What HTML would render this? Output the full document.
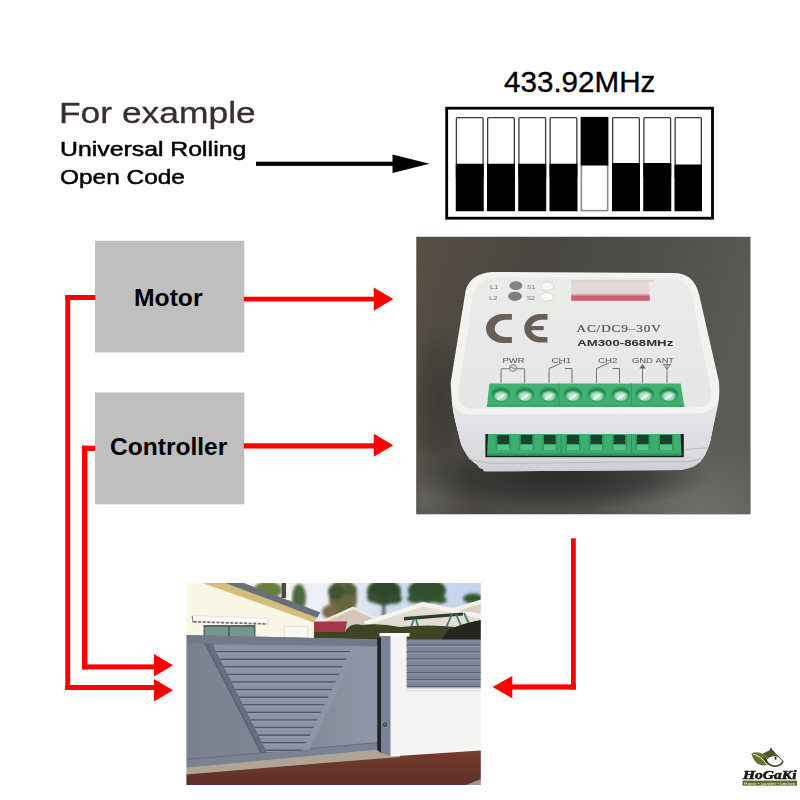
<!DOCTYPE html>
<html><head><meta charset="utf-8">
<style>
html,body{margin:0;padding:0;background:#fff;}
body{width:800px;height:800px;position:relative;overflow:hidden;font-family:"Liberation Sans",sans-serif;}
.t{position:absolute;white-space:nowrap;line-height:1;margin:0;}
svg{position:absolute;left:0;top:0;}
</style></head><body>
<svg id="main" width="800" height="800" viewBox="0 0 800 800">
<!-- black arrow -->
<rect x="256" y="161.7" width="140" height="4.2" fill="#000"/>
<polygon points="392.5,154.5 429.5,163.8 392.5,173" fill="#000"/>
<!-- dip switch -->
<rect x="446.7" y="108.2" width="265.8" height="110" fill="#fff" stroke="#000" stroke-width="2.8"/>
<g id="sw">
<rect x="456.4" y="117.65" width="26.7" height="60" rx="1" fill="#fff" stroke="#3a3a3a" stroke-width="1.3"/><rect x="455.75" y="163.75" width="28" height="47.5" fill="#000"/>
<rect x="487.65" y="117.65" width="26.7" height="60" rx="1" fill="#fff" stroke="#3a3a3a" stroke-width="1.3"/><rect x="487" y="163.75" width="28" height="47.5" fill="#000"/>
<rect x="518.9" y="117.65" width="26.7" height="60" rx="1" fill="#fff" stroke="#3a3a3a" stroke-width="1.3"/><rect x="518.25" y="163.75" width="28" height="47.5" fill="#000"/>
<rect x="550.15" y="117.65" width="26.7" height="60" rx="1" fill="#fff" stroke="#3a3a3a" stroke-width="1.3"/><rect x="549.5" y="163.75" width="28" height="47.5" fill="#000"/>
<rect x="581.35" y="117.6" width="26.3" height="93" fill="#fff" stroke="#8a8a8a" stroke-width="1.6"/><rect x="580.75" y="117" width="27.5" height="48.5" fill="#000"/>
<rect x="612.65" y="117.65" width="26.7" height="60" rx="1" fill="#fff" stroke="#3a3a3a" stroke-width="1.3"/><rect x="612" y="163" width="28" height="48.25" fill="#000"/>
<rect x="643.9" y="117.65" width="26.7" height="60" rx="1" fill="#fff" stroke="#3a3a3a" stroke-width="1.3"/><rect x="643.25" y="163" width="28" height="48.25" fill="#000"/>
<rect x="675.15" y="117.65" width="26.2" height="60" rx="1" fill="#fff" stroke="#3a3a3a" stroke-width="1.3"/><rect x="674.5" y="164.5" width="27.5" height="46.75" fill="#000"/>
</g>
<!-- DEVICE START -->
<defs>
<clipPath id="cpDev"><rect x="416.25" y="236.75" width="334.25" height="277.5"/></clipPath>
<linearGradient id="bgDev" x1="0" y1="0" x2="1" y2="0.25">
<stop offset="0" stop-color="#574f43"/><stop offset="0.35" stop-color="#4a4742"/><stop offset="0.7" stop-color="#4f4f4c"/><stop offset="1" stop-color="#5a5a57"/>
</linearGradient>
<radialGradient id="bgShade" cx="0.5" cy="0.5" r="0.5"><stop offset="0" stop-color="#2a2a29" stop-opacity="0.95"/><stop offset="0.6" stop-color="#2e2e2d" stop-opacity="0.6"/><stop offset="1" stop-color="#333" stop-opacity="0"/></radialGradient>
<radialGradient id="bgLight" cx="0.5" cy="0.5" r="0.5"><stop offset="0" stop-color="#74746f" stop-opacity="0.9"/><stop offset="1" stop-color="#6a6a66" stop-opacity="0"/></radialGradient>
<linearGradient id="topFace" x1="0" y1="0" x2="0" y2="1">
<stop offset="0" stop-color="#ebebea"/><stop offset="1" stop-color="#e5e6e6"/>
</linearGradient>
<linearGradient id="frontFace" x1="0" y1="0" x2="0" y2="1">
<stop offset="0" stop-color="#f6f6f6"/><stop offset="0.15" stop-color="#e5e5e8"/><stop offset="0.8" stop-color="#d9dade"/><stop offset="1" stop-color="#cccdd2"/>
</linearGradient>
<radialGradient id="screw" cx="0.5" cy="0.5" r="0.5">
<stop offset="0" stop-color="#d3efe0"/><stop offset="0.6" stop-color="#a5dcc0"/><stop offset="0.9" stop-color="#4fb27e"/><stop offset="1" stop-color="#2f9a5e"/>
</radialGradient>
<filter id="b1"><feGaussianBlur stdDeviation="0.6"/></filter>
<filter id="b2"><feGaussianBlur stdDeviation="1.5"/></filter>
<filter id="b05"><feGaussianBlur stdDeviation="0.35"/></filter>
</defs>
<g clip-path="url(#cpDev)">
<rect x="416" y="236" width="336" height="279" fill="url(#bgDev)"/>
<ellipse cx="700" cy="520" rx="110" ry="90" fill="url(#bgLight)"/>
<ellipse cx="425" cy="500" rx="50" ry="60" fill="url(#bgLight)" opacity="0.6"/>
<ellipse cx="560" cy="476" rx="150" ry="34" fill="url(#bgShade)"/>
<ellipse cx="440" cy="400" rx="30" ry="80" fill="url(#bgShade)" opacity="0.5"/>
<path d="M492.5 272 L672.5 273 C688 273 695 280 699 294 L719 382 Q720 395 718 405 L715 418 L710 442.5 Q707 452 703 458 Q698 467 681 470 L484 471.3 L483 469 Q479 468.5 477.5 465 Q470 460 466.9 455 Q462 447 460.6 442.5 L454.4 417.5 Q451 400 450.6 383 L465.6 291 C468 280 478 272.5 492.5 272 Z" fill="#f3f3f1"/>
<path d="M451.5 398 Q453 413 470 414.5 L700 413.5 Q715 412 718.5 398 L715 418 L710 442.5 Q707 452 703 458 Q698 467 681 470 L484 471.3 L483 469 Q479 468.5 477.5 465 Q470 460 466.9 455 Q462 447 460.6 442.5 L454.4 417.5 Q452 407 451.5 398 Z" fill="url(#frontFace)"/>
<path d="M468.5 458.5 Q480 463.5 500 463.3 L690 461.5 Q698 460 702 457.5" stroke="#b5b6bc" stroke-width="0.9" fill="none"/>
<path d="M496 277.5 L670 278 Q688 278.5 692 296 L711 390 Q713 406 699 407.5 L471 408.5 Q457 407.5 458.5 392 L473 295 Q477 278 496 277.5 Z" fill="url(#topFace)"/>
<rect x="571.25" y="280.5" width="82.5" height="20.25" fill="#e6d6d8"/>
<rect x="571.25" y="293.8" width="78" height="2" fill="#dcaab0"/>
<rect x="571.25" y="295.5" width="78.5" height="5.25" fill="#c8616f"/>
<polygon points="648.5,282 653.75,280.5 653.75,300.75 650.5,300.75" fill="#f1e9e7"/>
<rect x="571.25" y="280.5" width="82.5" height="1.2" fill="#d8cccc"/>
<g filter="url(#b05)">
<ellipse cx="515.9" cy="285.6" rx="6.5" ry="4.4" fill="#878080"/>
<ellipse cx="515" cy="296.3" rx="6.9" ry="4.6" fill="#847d7d"/>
<ellipse cx="547.25" cy="286.25" rx="6.5" ry="4.3" fill="#f8f8f4" stroke="#d2d2cc" stroke-width="0.9"/>
<ellipse cx="546.9" cy="296.9" rx="6.5" ry="4.4" fill="#f8f8f4" stroke="#d2d2cc" stroke-width="0.9"/>
<text x="490" y="288.8" font-size="5.2" font-family="Liberation Sans, sans-serif" fill="#777" textLength="8.5" lengthAdjust="spacingAndGlyphs">L1</text>
<text x="489" y="299.5" font-size="5.2" font-family="Liberation Sans, sans-serif" fill="#777" textLength="8.5" lengthAdjust="spacingAndGlyphs">L2</text>
<text x="526.9" y="289" font-size="5.2" font-family="Liberation Sans, sans-serif" fill="#777" textLength="8.7" lengthAdjust="spacingAndGlyphs">S1</text>
<text x="526.4" y="299.8" font-size="5.2" font-family="Liberation Sans, sans-serif" fill="#777" textLength="8.7" lengthAdjust="spacingAndGlyphs">S2</text>
<path d="M511.9 314.1 H503 A17 14.5 0 0 0 503 343.1 H511.9 V337.1 H505 A11.25 8.7 0 0 1 505 319.75 H511.9 Z" fill="#686158"/>
<path d="M547.5 314.1 H539 A16.1 14.3 0 0 0 539 342.6 H547.5 V337 H541.5 A10.5 8.65 0 0 1 541.5 319.7 H547.5 Z" fill="#686158"/>
<rect x="530" y="326" width="13.75" height="4.2" fill="#686158"/>
</g>
<g filter="url(#b05)">
<text transform="translate(576.5 331.8) scale(1.25 1)" x="0" y="0" font-size="10.6" font-family="Liberation Serif, serif" fill="#555" stroke="#555" stroke-width="0.2" textLength="67.4" lengthAdjust="spacing">AC/DC9–30V</text>
<text x="577.25" y="345.5" font-size="9.6" font-weight="bold" font-family="Liberation Sans, sans-serif" fill="#2e2e2e" textLength="96" lengthAdjust="spacingAndGlyphs">AM300-868MHz</text>
<text x="502.5" y="362.5" font-family="Liberation Sans, sans-serif" fill="#555" font-size="7.2" lengthAdjust="spacingAndGlyphs" textLength="22">PWR</text>
<text x="551.4" y="362.5" font-family="Liberation Sans, sans-serif" fill="#555" font-size="7.2" lengthAdjust="spacingAndGlyphs" textLength="19.8">CH1</text>
<text x="598" y="362.5" font-family="Liberation Sans, sans-serif" fill="#555" font-size="7.2" lengthAdjust="spacingAndGlyphs" textLength="19.5">CH2</text>
<text x="631.9" y="362.5" font-family="Liberation Sans, sans-serif" fill="#555" font-size="7.2" lengthAdjust="spacingAndGlyphs" textLength="21">GND</text>
<text x="655.5" y="362.5" font-family="Liberation Sans, sans-serif" fill="#555" font-size="7.2" lengthAdjust="spacingAndGlyphs" textLength="18.5">ANT</text>
<path d="M501 383 V368.8 H509.5 M516.5 368.8 H524.6 V383" fill="none" stroke="#666" stroke-width="0.9"/>
<circle cx="513" cy="368" r="3.4" fill="none" stroke="#666" stroke-width="0.9"/><path d="M510.5 367 L515.5 369" fill="none" stroke="#666" stroke-width="0.9"/>
<path d="M549 383 V368.5 L562 362.8 M565 368.5 H572 V383" fill="none" stroke="#666" stroke-width="0.9"/>
<path d="M596.5 383 V368.5 L609.5 362.8 M612.5 368.5 H619.5 V383" fill="none" stroke="#666" stroke-width="0.9"/>
<path d="M642.5 383 V368" fill="none" stroke="#666" stroke-width="0.9"/><path d="M639.3 368.5 L642.5 364 L645.7 368.5 Z" fill="#666"/>
<path d="M667 383 V364.5 M663.3 364.5 H670.7 L667 369 Z" fill="none" stroke="#666" stroke-width="0.9"/>
</g>
<polygon points="489.4,383.6 680.6,383.6 684.4,406.8 486.9,406.8" fill="#3fb272"/>
<polygon points="487.1,404.8 684.1,404.8 684.4,406.8 486.9,406.8" fill="#36a266"/>
<rect x="558.7" y="383.3" width="0.8" height="23.3" fill="#2f9a5e"/>
<rect x="631" y="383.3" width="0.8" height="23.3" fill="#2f9a5e"/>
<ellipse cx="501.00" cy="394.6" rx="9.6" ry="7.6" fill="#2f9c5f"/>
<ellipse cx="501.00" cy="393.6" rx="8.6" ry="5.6" fill="#2a8a54"/>
<ellipse cx="501.00" cy="396.2" rx="8" ry="5.6" fill="url(#screw)"/>
<path d="M497.50 399.5 L504.50 394.5" stroke="#eefaf3" stroke-width="2" filter="url(#b1)"/>
<ellipse cx="524.96" cy="394.6" rx="9.6" ry="7.6" fill="#2f9c5f"/>
<ellipse cx="524.96" cy="393.6" rx="8.6" ry="5.6" fill="#2a8a54"/>
<ellipse cx="524.96" cy="396.2" rx="8" ry="5.6" fill="url(#screw)"/>
<path d="M521.46 399.5 L528.46 394.5" stroke="#eefaf3" stroke-width="2" filter="url(#b1)"/>
<ellipse cx="548.92" cy="394.6" rx="9.6" ry="7.6" fill="#2f9c5f"/>
<ellipse cx="548.92" cy="393.6" rx="8.6" ry="5.6" fill="#2a8a54"/>
<ellipse cx="548.92" cy="396.2" rx="8" ry="5.6" fill="url(#screw)"/>
<path d="M545.42 399.5 L552.42 394.5" stroke="#eefaf3" stroke-width="2" filter="url(#b1)"/>
<ellipse cx="572.88" cy="394.6" rx="9.6" ry="7.6" fill="#2f9c5f"/>
<ellipse cx="572.88" cy="393.6" rx="8.6" ry="5.6" fill="#2a8a54"/>
<ellipse cx="572.88" cy="396.2" rx="8" ry="5.6" fill="url(#screw)"/>
<path d="M569.38 399.5 L576.38 394.5" stroke="#eefaf3" stroke-width="2" filter="url(#b1)"/>
<ellipse cx="596.84" cy="394.6" rx="9.6" ry="7.6" fill="#2f9c5f"/>
<ellipse cx="596.84" cy="393.6" rx="8.6" ry="5.6" fill="#2a8a54"/>
<ellipse cx="596.84" cy="396.2" rx="8" ry="5.6" fill="url(#screw)"/>
<path d="M593.34 399.5 L600.34 394.5" stroke="#eefaf3" stroke-width="2" filter="url(#b1)"/>
<ellipse cx="620.80" cy="394.6" rx="9.6" ry="7.6" fill="#2f9c5f"/>
<ellipse cx="620.80" cy="393.6" rx="8.6" ry="5.6" fill="#2a8a54"/>
<ellipse cx="620.80" cy="396.2" rx="8" ry="5.6" fill="url(#screw)"/>
<path d="M617.30 399.5 L624.30 394.5" stroke="#eefaf3" stroke-width="2" filter="url(#b1)"/>
<ellipse cx="644.76" cy="394.6" rx="9.6" ry="7.6" fill="#2f9c5f"/>
<ellipse cx="644.76" cy="393.6" rx="8.6" ry="5.6" fill="#2a8a54"/>
<ellipse cx="644.76" cy="396.2" rx="8" ry="5.6" fill="url(#screw)"/>
<path d="M641.26 399.5 L648.26 394.5" stroke="#eefaf3" stroke-width="2" filter="url(#b1)"/>
<ellipse cx="668.72" cy="394.6" rx="9.6" ry="7.6" fill="#2f9c5f"/>
<ellipse cx="668.72" cy="393.6" rx="8.6" ry="5.6" fill="#2a8a54"/>
<ellipse cx="668.72" cy="396.2" rx="8" ry="5.6" fill="url(#screw)"/>
<path d="M665.22 399.5 L672.22 394.5" stroke="#eefaf3" stroke-width="2" filter="url(#b1)"/>
<rect x="485.4" y="434" width="198.4" height="23.2" fill="#1c1d1c"/>
<polygon points="488,434 680.6,434 681.5,455.6 487,455.6" fill="#3cae6d"/>
<rect x="487" y="453.2" width="194.5" height="2.4" fill="#2f9a5e"/>
<rect x="497.25" y="435" width="12" height="9.5" fill="#17452c"/>
<path d="M497.25 444.5 h12 l1.5 5.5 h-15 Z" fill="#52c286"/>
<rect x="495.65" y="435" width="1.6" height="15" fill="#2f9a5e"/>
<rect x="509.25" y="435" width="1.6" height="15" fill="#2f9a5e"/>
<rect x="520.50" y="435" width="12" height="9.5" fill="#17452c"/>
<path d="M520.50 444.5 h12 l1.5 5.5 h-15 Z" fill="#52c286"/>
<rect x="518.90" y="435" width="1.6" height="15" fill="#2f9a5e"/>
<rect x="532.50" y="435" width="1.6" height="15" fill="#2f9a5e"/>
<rect x="543.75" y="435" width="12" height="9.5" fill="#17452c"/>
<path d="M543.75 444.5 h12 l1.5 5.5 h-15 Z" fill="#52c286"/>
<rect x="542.15" y="435" width="1.6" height="15" fill="#2f9a5e"/>
<rect x="555.75" y="435" width="1.6" height="15" fill="#2f9a5e"/>
<rect x="567.00" y="435" width="12" height="9.5" fill="#17452c"/>
<path d="M567.00 444.5 h12 l1.5 5.5 h-15 Z" fill="#52c286"/>
<rect x="565.40" y="435" width="1.6" height="15" fill="#2f9a5e"/>
<rect x="579.00" y="435" width="1.6" height="15" fill="#2f9a5e"/>
<rect x="590.25" y="435" width="12" height="9.5" fill="#17452c"/>
<path d="M590.25 444.5 h12 l1.5 5.5 h-15 Z" fill="#52c286"/>
<rect x="588.65" y="435" width="1.6" height="15" fill="#2f9a5e"/>
<rect x="602.25" y="435" width="1.6" height="15" fill="#2f9a5e"/>
<rect x="613.50" y="435" width="12" height="9.5" fill="#17452c"/>
<path d="M613.50 444.5 h12 l1.5 5.5 h-15 Z" fill="#52c286"/>
<rect x="611.90" y="435" width="1.6" height="15" fill="#2f9a5e"/>
<rect x="625.50" y="435" width="1.6" height="15" fill="#2f9a5e"/>
<rect x="636.75" y="435" width="12" height="9.5" fill="#17452c"/>
<path d="M636.75 444.5 h12 l1.5 5.5 h-15 Z" fill="#52c286"/>
<rect x="635.15" y="435" width="1.6" height="15" fill="#2f9a5e"/>
<rect x="648.75" y="435" width="1.6" height="15" fill="#2f9a5e"/>
<rect x="660.00" y="435" width="12" height="9.5" fill="#17452c"/>
<path d="M660.00 444.5 h12 l1.5 5.5 h-15 Z" fill="#52c286"/>
<rect x="658.40" y="435" width="1.6" height="15" fill="#2f9a5e"/>
<rect x="672.00" y="435" width="1.6" height="15" fill="#2f9a5e"/>
<path d="M684.5 449.5 L708 447.8" stroke="#b9bac0" stroke-width="1"/>
<rect x="560.5" y="434.5" width="1" height="21" fill="#2c8f58"/>
<rect x="631" y="434.5" width="1" height="21" fill="#2c8f58"/>
</g>
<!-- DEVICE END -->
<!-- GATE START -->
<defs>
<clipPath id="cpGate"><rect x="186.4" y="583" width="294.4" height="202"/></clipPath>
<clipPath id="cpTri"><polygon points="213,645 352.4,646.6 302.5,750.5 267,752.3"/></clipPath>
<linearGradient id="sky" x1="0" y1="0" x2="1" y2="0"><stop offset="0" stop-color="#f4f5fa"/><stop offset="0.5" stop-color="#eceff7"/><stop offset="0.68" stop-color="#cfdcf2"/><stop offset="1" stop-color="#c3d3ef"/></linearGradient>
<linearGradient id="gateG" x1="0" y1="0" x2="1" y2="0"><stop offset="0" stop-color="#7a8191"/><stop offset="0.55" stop-color="#7f8797"/><stop offset="1" stop-color="#8f97a8"/></linearGradient>
<linearGradient id="pave" x1="0" y1="0" x2="0" y2="1"><stop offset="0" stop-color="#7a3d2f"/><stop offset="1" stop-color="#5a2e27"/></linearGradient>
<filter id="gb"><feGaussianBlur stdDeviation="0.55"/></filter>
<filter id="gb2"><feGaussianBlur stdDeviation="1.6"/></filter>
</defs>
<g clip-path="url(#cpGate)"><g filter="url(#gb)">
<rect x="180" y="578" width="310" height="212" fill="url(#sky)"/>
<g filter="url(#gb2)">
<ellipse cx="343" cy="598" rx="14" ry="20" fill="#67663f"/>
<ellipse cx="336" cy="592" rx="8" ry="8" fill="#3d5433"/>
<ellipse cx="350" cy="590" rx="7" ry="6" fill="#4a5a34"/>
<ellipse cx="384" cy="592" rx="17" ry="13" fill="#2f4a2c"/>
<ellipse cx="375" cy="598" rx="8" ry="5" fill="#34502f"/>
<ellipse cx="394" cy="599" rx="8" ry="5" fill="#34502f"/>
<rect x="382.5" y="600" width="2.6" height="16" fill="#3f3d30"/>
<ellipse cx="427" cy="591" rx="19" ry="12" fill="#31502d"/>
<ellipse cx="415" cy="599" rx="8" ry="4" fill="#36552f"/>
<ellipse cx="440" cy="600" rx="7" ry="3.5" fill="#36552f"/>
<ellipse cx="473" cy="598.5" rx="10" ry="5" fill="#35552f"/>
<ellipse cx="299" cy="598" rx="7" ry="14" fill="#4e6a3a"/>
<ellipse cx="268" cy="590" rx="14" ry="9" fill="#66803a"/>
<ellipse cx="330" cy="612" rx="8" ry="7" fill="#7a6a4a"/>
</g>
<polygon points="325,622 353,608 380,622 380,632 325,632" fill="#d6c6ba"/>
<polygon points="325,619 353,606.5 378,618 378,620.5 353,609.5 325,622" fill="#efe6dc"/>
<polygon points="366,624 423,604.5 481,618 481,640 366,640" fill="#e2ddd0"/>
<polygon points="364,621.5 423,602 481,614 481,618.5 423,606.5 366,625.5" fill="#f7f4ee"/>
<polygon points="452,608.5 481,599.5 481,604 458,611" fill="#f4efe6"/>
<polygon points="458,611 481,604 481,613 470,612" fill="#dcd2c4"/>
<polygon points="404,617 463,612.5 463,615.5 404,620.5" fill="#2e3a36"/>
<path d="M414 619 L410 630 M416 619 L419 630 M452 614 L446 628 M456 614 L462 628 M464 613 L470 626" stroke="#3f7f78" stroke-width="1.8" fill="none"/>
<polygon points="314,621.5 347,621.5 345,632.5 314,632.5" fill="#a33748"/>
<path d="M312 632 L345 632 Q350 622 362 625 Q380 623 400 627 Q430 624 455 627 Q470 622 481 620 L481 642 L312 642 Z" fill="#3c4427" filter="url(#gb)"/>
<path d="M448 630 Q468 622 481 620 L481 642 L440 642 Z" fill="#23251c" filter="url(#gb)"/>
<polygon points="186,583 232,583 314,618 314,640 186,640" fill="#faf6e6"/>
<polygon points="202.6,583 225.4,583 317,617.6 313.75,622.5" fill="#d4bd7a"/>
<polygon points="225.4,583 243.75,583 320.5,612.4 317,617.8" fill="#6a6f78"/>
<rect x="281.6" y="583" width="4.6" height="15" fill="#4a4a48"/><rect x="286.2" y="583" width="5" height="17" fill="#f3f1ea"/>
<polygon points="191.5,615.5 268.5,618.5 268,623 193,621" fill="#ffffff" stroke="#dcd8cc" stroke-width="0.7"/>
<path d="M193.5 621.8 L267.5 624" stroke="#6e6a5e" stroke-width="1.6" stroke-dasharray="3 1.6" fill="none"/>
<path d="M192.3 616 L192.8 622.5" stroke="#8a8678" stroke-width="1" fill="none"/>
<rect x="203.5" y="625" width="52" height="12.5" fill="#56635f"/>
<rect x="205" y="627" width="23" height="10" fill="#749592"/><rect x="230" y="627" width="24" height="10" fill="#749592"/>
<rect x="284.4" y="626.6" width="23" height="11" fill="#fbfaf2" stroke="#e2dcc4" stroke-width="0.8"/>
<polygon points="186,760 481,745 481,790 186,790" fill="url(#pave)"/>
<polygon points="186,764 400,747 400,757 330,762.5 186,774.5" fill="#b0a594"/>
<polygon points="466,785 481,779 481,786" fill="#9a9694"/>
<polygon points="390,636 406.7,636 406.7,688 481,688 481,750.5 390,756.5" fill="#f4f4f3"/>
<rect x="379.5" y="633" width="30" height="3.4" fill="#fbfbfa"/>
<rect x="406" y="685.8" width="75" height="4.4" fill="#ffffff"/>
<rect x="406" y="690.2" width="75" height="1" fill="#d9d9d9"/>
<rect x="406.7" y="639.5" width="75" height="46.5" fill="#7d8598"/>
<rect x="406.7" y="644.50" width="75" height="1.3" fill="#5c6376"/>
<rect x="406.7" y="645.80" width="75" height="1.2" fill="#8f97aa"/>
<rect x="406.7" y="651.40" width="75" height="1.3" fill="#5c6376"/>
<rect x="406.7" y="652.70" width="75" height="1.2" fill="#8f97aa"/>
<rect x="406.7" y="658.30" width="75" height="1.3" fill="#5c6376"/>
<rect x="406.7" y="659.60" width="75" height="1.2" fill="#8f97aa"/>
<rect x="406.7" y="665.20" width="75" height="1.3" fill="#5c6376"/>
<rect x="406.7" y="666.50" width="75" height="1.2" fill="#8f97aa"/>
<rect x="406.7" y="672.10" width="75" height="1.3" fill="#5c6376"/>
<rect x="406.7" y="673.40" width="75" height="1.2" fill="#8f97aa"/>
<rect x="406.7" y="679.00" width="75" height="1.3" fill="#5c6376"/>
<rect x="406.7" y="680.30" width="75" height="1.2" fill="#8f97aa"/>
<rect x="406.7" y="685.90" width="75" height="1.3" fill="#5c6376"/>
<rect x="406.7" y="687.20" width="75" height="1.2" fill="#8f97aa"/>
<polygon points="186,635 378,639.5 378,749.5 186,767.5" fill="url(#gateG)"/>
<polygon points="186,635 378,639.5 378,646.5 186,643" fill="#727a8a"/>
<polygon points="186,759.5 378,742.5 378,749.5 186,767.5" fill="#7a8293"/>
<polygon points="186,759 378,742 378,743 186,760" fill="#666d7d"/>
<polygon points="204.5,643.5 213.5,643.7 268.5,752.5 260.5,753" fill="#666d7e"/>
<polygon points="204.5,643.5 206,643.5 262,753 260.5,753" fill="#5b6272"/>
<polygon points="351,645.5 359,646 309.5,749.3 302,750.3" fill="#8d95a6"/>
<g clip-path="url(#cpTri)">
<rect x="210" y="640" width="150" height="115" fill="#8a92a3"/>
<rect x="210" y="651.00" width="150" height="1.5" fill="#4f5666"/>
<rect x="210" y="652.50" width="150" height="1.5" fill="#949cad"/>
<rect x="210" y="658.59" width="150" height="1.5" fill="#4f5666"/>
<rect x="210" y="660.09" width="150" height="1.5" fill="#949cad"/>
<rect x="210" y="666.17" width="150" height="1.5" fill="#4f5666"/>
<rect x="210" y="667.67" width="150" height="1.5" fill="#949cad"/>
<rect x="210" y="673.75" width="150" height="1.5" fill="#4f5666"/>
<rect x="210" y="675.25" width="150" height="1.5" fill="#949cad"/>
<rect x="210" y="681.34" width="150" height="1.5" fill="#4f5666"/>
<rect x="210" y="682.84" width="150" height="1.5" fill="#949cad"/>
<rect x="210" y="688.92" width="150" height="1.5" fill="#4f5666"/>
<rect x="210" y="690.42" width="150" height="1.5" fill="#949cad"/>
<rect x="210" y="696.51" width="150" height="1.5" fill="#4f5666"/>
<rect x="210" y="698.01" width="150" height="1.5" fill="#949cad"/>
<rect x="210" y="704.10" width="150" height="1.5" fill="#4f5666"/>
<rect x="210" y="705.60" width="150" height="1.5" fill="#949cad"/>
<rect x="210" y="711.68" width="150" height="1.5" fill="#4f5666"/>
<rect x="210" y="713.18" width="150" height="1.5" fill="#949cad"/>
<rect x="210" y="719.26" width="150" height="1.5" fill="#4f5666"/>
<rect x="210" y="720.76" width="150" height="1.5" fill="#949cad"/>
<rect x="210" y="726.85" width="150" height="1.5" fill="#4f5666"/>
<rect x="210" y="728.35" width="150" height="1.5" fill="#949cad"/>
<rect x="210" y="734.43" width="150" height="1.5" fill="#4f5666"/>
<rect x="210" y="735.93" width="150" height="1.5" fill="#949cad"/>
<rect x="210" y="742.02" width="150" height="1.5" fill="#4f5666"/>
<rect x="210" y="743.52" width="150" height="1.5" fill="#949cad"/>
<rect x="210" y="749.61" width="150" height="1.5" fill="#4f5666"/>
<rect x="210" y="751.11" width="150" height="1.5" fill="#949cad"/>
<rect x="210" y="757.19" width="150" height="1.5" fill="#4f5666"/>
<rect x="210" y="758.69" width="150" height="1.5" fill="#949cad"/>
</g>
<polygon points="377.2,638 381,638 381,753 377.2,750" fill="#23262c"/>
<polygon points="381,637 390.5,636.5 390.5,756 381,753" fill="#7b8294"/>
<circle cx="385" cy="724.4" r="2" fill="#2b2e35"/><circle cx="385" cy="724.4" r="0.9" fill="#9097a6"/>
</g></g>
<!-- GATE END -->
<!-- LOGO START -->
<g filter="url(#b05)">
<path d="M751.3 753.2 Q758 751 764 754.5 Q768 758 767.5 765 Q760 766.5 755.5 762 Q752.5 758.5 751.3 753.2 Z" fill="#6b7231"/>
<path d="M753 754 Q761 756 766.8 764.5" stroke="#ffffff" stroke-width="1" fill="none"/>
<path d="M762.5 753.8 L771.5 749.2 L778 757.2 Q771 754.5 767.5 759 Q765.8 755.5 762.5 753.8 Z" fill="#4f5625"/>
<rect x="770.2" y="747.8" width="1.6" height="3" fill="#3d421c"/>
<path d="M764.5 757.5 Q767.5 765.5 774.5 766.3 Q781 766 783 761.2" stroke="#2b2e16" stroke-width="1.5" fill="none"/>
<path d="M771.5 749.5 L783 761.3" stroke="#2b2e16" stroke-width="0.9" fill="none"/>
<rect x="774.6" y="757" width="1.8" height="2.6" fill="#2b2e16"/>
<text x="743" y="778.6" font-family="Liberation Serif, serif" font-weight="bold" font-style="italic" font-size="11.8" fill="#15140c" stroke="#15140c" stroke-width="0.5" textLength="53.5" lengthAdjust="spacingAndGlyphs">HoGaKi</text>
<rect x="742.5" y="780.6" width="54.5" height="5" fill="#5f6a2c"/>
<text x="744" y="784.7" font-family="Liberation Sans, sans-serif" font-size="4.3" fill="#f4f4e6" textLength="51.5" lengthAdjust="spacingAndGlyphs">Home • garden • kitchen</text>
</g>
<!-- LOGO END -->
<!-- gray boxes -->
<rect x="95" y="240.75" width="149.25" height="111.75" fill="#bfbfbf"/>
<rect x="95" y="392.5" width="149.25" height="111.75" fill="#bfbfbf"/>
<!-- red lines -->
<g fill="#ff0000">
<rect x="65.3" y="295" width="30" height="5"/>
<rect x="65.3" y="295" width="4.9" height="395"/>
<rect x="65.3" y="685" width="90" height="5"/>
<polygon points="154,679 173,690.3 154,701.6"/>
<rect x="82" y="445.7" width="13.2" height="5.3"/>
<rect x="82" y="445.7" width="5.4" height="223.7"/>
<rect x="82" y="664.4" width="73" height="5"/>
<polygon points="154,654 173,665.2 154,676.4"/>
<rect x="243.75" y="296.7" width="131" height="4.8"/>
<polygon points="373.75,287.5 393.25,299.1 373.75,310.75"/>
<rect x="243.75" y="443.3" width="131" height="5.2"/>
<polygon points="373.75,433.75 393.25,445.3 373.75,456.75"/>
<rect x="571" y="538.3" width="4.8" height="151.3"/>
<rect x="511" y="684.4" width="64.8" height="5.2"/>
<polygon points="512.3,676 492.6,687.1 512.3,698.2"/>
</g>
</svg>
<div class="t" style="left:58.8px;top:97.7px;font-size:29.3px;color:#3a2d2d;transform-origin:0 0;transform:scaleX(1.208);-webkit-text-stroke:0.3px #3a2d2d;">For example</div>
<div class="t" style="left:59.6px;top:138.8px;font-size:20.7px;color:#000;-webkit-text-stroke:0.5px #000;transform-origin:0 0;transform:scaleX(1.2);">Universal Rolling</div>
<div class="t" style="left:60px;top:166.8px;font-size:20.7px;color:#000;-webkit-text-stroke:0.5px #000;transform-origin:0 0;transform:scaleX(1.18);">Open Code</div>
<div class="t" style="left:504px;top:66.5px;font-size:29.6px;color:#000;-webkit-text-stroke:0.35px #000;">433.92MHz</div>
<div class="t" style="left:134px;top:286px;font-size:24.7px;font-weight:bold;color:#000;">Motor</div>
<div class="t" style="left:110px;top:434.6px;font-size:24.55px;font-weight:bold;color:#000;">Controller</div>
</body></html>
